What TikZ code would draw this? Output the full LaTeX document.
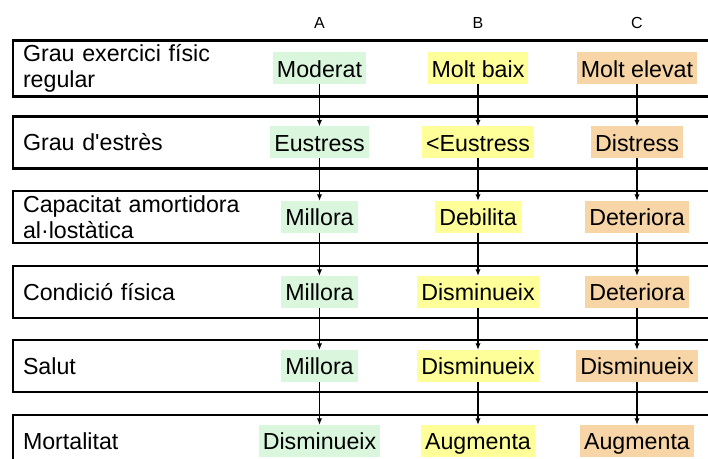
\documentclass[tikz,border=0pt]{standalone}
\usepackage{fontspec}
\setmainfont{Liberation Sans}[Ligatures=TeXOff]
\usetikzlibrary{arrows.meta}

\definecolor{fillA}{HTML}{DAF7DE}
\definecolor{fillB}{HTML}{FFFF99}
\definecolor{fillC}{HTML}{F8D5A6}

\begin{document}
\begin{tikzpicture}[x=0.75pt, y=-0.75pt,
                    every node/.style = {font=\fontsize{17.4}{19.2}\selectfont, outer sep=0pt},
                    rowbox/.style = {draw, line width=2pt, anchor=west, minimum width=540pt,
                                     minimum height=39pt, inner xsep=7.5pt, text width=525pt, align=left},
                    val/.style = {inner xsep=3pt, inner ysep=3.5pt, text height=15pt, text depth=2pt},
                    colhead/.style = {font=\fontsize{12}{14}\selectfont},
                    arr/.style = {line width=1.2pt, -{Latex[length=5pt,width=4pt]}}]

  \useasboundingbox (0,0) rectangle (708,459);
  \clip (0,0) rectangle (708,459);

  \node[colhead] (hA) at (319.5,23) {A};
  \node[colhead] (hB) at (478,23) {B};
  \node[colhead] (hC) at (637,23) {C};

  \node[rowbox] (r1) at (13,68.5) {Grau exercici físic\\regular};
  \node[rowbox] (r2) at (13,142.5) {Grau d'estrès};
  \node[rowbox] (r3) at (13,217) {Capacitat amortidora\\al·lostàtica};
  \node[rowbox] (r4) at (13,292) {Condició física};
  \node[rowbox] (r5) at (13,366) {Salut};
  \node[rowbox] (r6) at (13,441) {Mortalitat};

  \node[val, fill=fillA] (a1) at (319.5,68.5) {Moderat};
  \node[val, fill=fillA] (a2) at (319.5,142.5) {Eustress};
  \node[val, fill=fillA] (a3) at (319.5,217) {Millora};
  \node[val, fill=fillA] (a4) at (319.5,292) {Millora};
  \node[val, fill=fillA] (a5) at (319.5,366) {Millora};
  \node[val, fill=fillA] (a6) at (319.5,441) {Disminueix};

  \node[val, fill=fillB] (b1) at (478,68.5) {Molt baix};
  \node[val, fill=fillB] (b2) at (478,142.5) {<Eustress};
  \node[val, fill=fillB] (b3) at (478,217) {Debilita};
  \node[val, fill=fillB] (b4) at (478,292) {Disminueix};
  \node[val, fill=fillB] (b5) at (478,366) {Disminueix};
  \node[val, fill=fillB] (b6) at (478,441) {Augmenta};

  \node[val, fill=fillC] (c1) at (637,68.5) {Molt elevat};
  \node[val, fill=fillC] (c2) at (637,142.5) {Distress};
  \node[val, fill=fillC] (c3) at (637,217) {Deteriora};
  \node[val, fill=fillC] (c4) at (637,292) {Deteriora};
  \node[val, fill=fillC] (c5) at (637,366) {Disminueix};
  \node[val, fill=fillC] (c6) at (637,441) {Augmenta};

  \foreach \c in {a,b,c}
    \foreach \i/\j in {1/2,2/3,3/4,4/5,5/6}
      \draw[arr] (\c\i) -- (\c\j);
\end{tikzpicture}
\end{document}
